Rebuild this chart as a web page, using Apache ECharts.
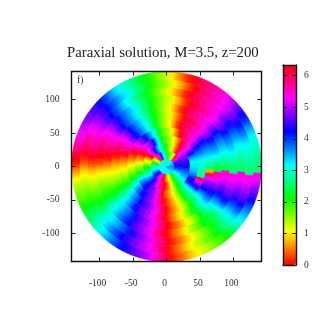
<!DOCTYPE html>
<html>
<head>
<meta charset="utf-8">
<style>
html,body{margin:0;padding:0;background:#fff}
canvas[data-zr-dom-id="zr_0"]{filter:blur(0.6px)}
canvas[data-zr-dom-id="zr_1"]{filter:blur(0.35px)}
</style>
<script src="https://cdn.jsdelivr.net/npm/echarts@6/dist/echarts.min.js"></script>
</head>
<body>
<div id="chart" style="width:332px;height:332px;"></div>
<script>
// ring centres (data units, centre to edge) and angle centres (degrees, ccw from +x)
var ringRadii = [5.9,17.8,29.6,41.4,53.3,65.1,76.9,88.8,100.6,112.4,124.3,136.1];
var angleCenters = [358,4,10,16,22,28,34,40,46,52,58,64,70,76,82,88,94,100,106,112,118,124,130,136,142,148,154,160,166,172,178,184,190,196,202,208,214,220,226,232,238,244,250,256,262,268,274,280,286,292,298,304,310,316,322,328,334,340,346,352];
// the scallops along the bands, degrees per ring
var ringTwist = [0,0,0,0,0,1,-1,1,-1,1,-1,1];
var xyTicks = [-100,-50,0,50,100];
var barTicks = [0,1,2,3,4,5,6];

// phase, one list per ring, inner to outer
var ring0 = [3.6,3.6,3.6,3.5,3.5,3.4,3.4,3.3,3.3,3.2,3.2,3.1,3.1,3.0,3.0,2.9,2.9,2.9,2.9,2.9,2.9,2.9,3.0,3.0,3.0,3.0,3.0,3.0,3.0,3.0,3.0,3.0,3.0,3.1,3.1,3.1,3.1,3.1,3.2,3.2,3.2,3.2,3.2,3.1,3.1,3.1,3.1,3.1,3.2,3.2,3.2,3.3,3.3,3.3,3.4,3.4,3.5,3.5,3.5,3.6];
var ring1 = [4.15,4.25,4.3,4.4,4.5,4.6,4.9,5.4,5.9,0.3,1.0,1.35,1.55,1.75,1.95,2.15,2.5,2.9,3.3,3.8,4.5,5.1,5.7,0.2,0.65,1.1,1.5,1.9,2.2,2.5,2.85,3.0,3.15,3.3,3.5,3.8,4.05,4.3,4.6,4.9,5.2,5.55,5.85,6.15,0.2,0.45,0.75,1.05,1.35,1.7,2.0,2.25,2.5,2.75,2.95,3.2,3.4,3.6,3.8,4.0];
var ring2 = [4.2,4.25,4.35,4.45,4.65,4.75,4.95,5.2,5.45,5.85,0.1,0.5,0.85,1.15,1.5,1.9,2.2,2.55,2.9,3.25,3.7,4.15,4.7,5.2,5.7,0.0,0.4,0.8,1.15,1.5,1.9,2.15,2.4,2.65,2.9,3.3,3.65,3.95,4.25,4.55,4.9,5.3,5.7,5.95,6.15,0.1,0.45,0.8,1.1,1.6,2.0,2.3,2.6,2.9,3.15,3.4,3.55,3.7,3.85,4.0];
var ring3 = [3.3,3.25,3.2,3.4,3.75,4.19,4.7,5.24,5.5,5.85,6.2,0.4,0.8,1.1,1.35,1.65,1.85,2.1,2.9,3.5,4.3,4.75,5.0,5.25,5.65,5.95,0.05,0.4,0.7,1.05,1.35,1.65,1.95,2.3,3.0,3.4,3.75,4.1,4.3,4.5,4.7,4.9,5.24,5.7,0.0,0.35,0.6,0.85,1.2,1.65,2.1,2.45,2.8,3.14,3.9,4.3,4.3,3.9,3.6,3.4];
var ring4 = [2.9,3.0,3.14,3.4,3.7,4.0,4.3,4.9,5.35,5.6,5.85,6.1,0.2,0.65,1.15,1.45,1.7,2.0,2.7,3.14,3.65,4.1,4.5,4.85,5.2,5.6,6.05,0.1,0.4,0.75,1.05,1.35,1.65,1.95,2.4,2.95,3.4,3.75,4.1,4.35,4.6,4.85,5.15,5.55,6.05,0.1,0.4,0.7,1.0,1.45,1.95,2.35,2.75,3.1,3.9,4.5,5.2,6.0,2.7,2.8];
var ring5 = [2.6,2.85,3.14,3.4,3.7,3.95,4.3,4.85,5.35,5.55,5.8,6.0,6.2,0.35,0.85,1.25,1.55,1.9,2.45,2.95,3.35,3.7,4.05,4.45,4.9,5.35,5.7,6.05,0.2,0.55,0.85,1.15,1.45,1.75,2.05,2.65,3.14,3.5,3.85,4.2,4.5,4.75,5.05,5.35,5.8,0.0,0.3,0.65,0.95,1.35,1.85,2.3,2.7,3.14,3.65,4.2,4.6,5.0,5.5,0.7];
var ring6 = [2.3,2.6,3.0,3.35,3.65,3.95,4.35,4.85,5.35,5.55,5.8,6.0,6.2,0.3,0.75,1.15,1.5,1.85,2.25,2.7,3.14,3.5,3.85,4.25,4.8,5.3,5.6,5.9,6.2,0.25,0.65,0.95,1.25,1.55,1.9,2.3,2.75,3.2,3.65,4.1,4.45,4.75,5.0,5.3,5.7,6.1,0.25,0.6,0.95,1.35,1.8,2.25,2.7,3.14,3.6,4.05,4.45,4.8,5.3,5.6];
var ring7 = [2.4,2.7,3.0,3.3,3.6,3.9,4.25,4.8,5.3,5.5,5.7,5.95,6.2,0.25,0.8,1.2,1.55,1.95,2.3,2.7,3.14,3.5,3.85,4.2,4.7,5.25,5.5,5.8,6.1,0.15,0.6,1.0,1.3,1.6,1.95,2.35,2.85,3.25,3.6,3.95,4.3,4.65,4.95,5.3,5.7,6.1,0.2,0.5,0.85,1.2,1.65,2.15,2.6,3.0,3.45,3.95,4.4,4.8,5.2,5.5];
var ring8 = [2.5,2.7,3.0,3.3,3.6,3.95,4.4,4.85,5.3,5.5,5.75,6.0,6.2,0.3,0.8,1.2,1.5,1.85,2.2,2.65,3.05,3.4,3.75,4.15,4.65,5.1,5.45,5.7,6.0,0.0,0.3,0.85,1.2,1.55,1.85,2.15,2.7,3.15,3.55,3.9,4.3,4.6,4.9,5.2,5.65,6.1,0.2,0.55,0.95,1.35,1.7,2.1,2.3,2.55,3.15,3.9,4.45,4.8,5.1,5.4];
var ring9 = [2.55,2.7,2.95,3.2,3.6,3.95,4.35,4.8,5.28,5.5,5.72,5.95,6.17,0.25,0.74,1.17,1.54,1.9,2.27,2.64,3.0,3.37,3.84,4.25,4.65,5.05,5.38,5.67,5.95,6.23,0.4,0.9,1.26,1.57,1.88,2.2,2.65,3.07,3.4,3.73,4.1,4.5,4.85,5.2,5.65,6.05,0.16,0.5,0.88,1.24,1.6,1.97,2.35,2.8,3.25,3.8,4.34,4.75,5.1,5.4];
var ring10 = [2.6,2.75,2.95,3.14,3.56,3.98,4.39,4.78,5.17,5.4,5.65,5.9,6.2,0.32,0.8,1.22,1.57,1.9,2.29,2.7,3.08,3.4,3.8,4.19,4.56,4.93,5.3,5.55,5.85,6.18,0.35,0.88,1.25,1.55,1.85,2.16,2.6,3.0,3.4,3.8,4.19,4.5,4.8,5.1,5.45,5.95,0.13,0.52,0.92,1.26,1.57,1.88,2.3,2.67,3.07,3.67,4.26,4.68,5.0,5.35];
var ring11 = [2.6,2.7,2.9,3.0,3.4,3.9,4.3,4.8,5.2,5.5,5.7,5.9,6.2,0.2,0.7,1.2,1.6,2.0,2.3,2.7,3.0,3.4,3.9,4.3,4.6,4.8,5.1,5.4,5.7,6.1,0.2,0.8,1.3,1.6,1.9,2.3,2.6,3.0,3.3,3.7,4.1,4.4,4.7,5.0,5.4,6.0,0.2,0.5,0.9,1.2,1.5,1.8,2.1,2.6,3.1,3.5,4.0,4.5,4.9,5.3];
var rings = [ring0,ring1,ring2,ring3,ring4,ring5,ring6,ring7,ring8,ring9,ring10,ring11];

var cells = [];
rings.forEach(function (ring, i) {
    ring.forEach(function (v, j) {
        cells.push([ringRadii[i], angleCenters[j] + ringTwist[i], v, i, j]);
    });
});

var serif = '"Liberation Serif"';
var barMax = 6.34;
var wheel = ['#ff0000', '#ffff00', '#00ff00', '#00ffff', '#0000ff', '#ff00ff', '#ff0000'];
var charts = echarts.init(document.getElementById('chart'));
var tickStyle = {color: '#222', width: 1};

// colour half way to the neighbouring cell, keeps the branch cut sharp
function edgeColor(a, b) {
    var d = b - a;
    if (d > Math.PI) d -= 2 * Math.PI;
    if (d < -Math.PI) d += 2 * Math.PI;
    if (Math.abs(d) > 1.5) d = 0;
    var v = a + d / 2;
    if (v < 0) v += 2 * Math.PI;
    if (v > 2 * Math.PI) v -= 2 * Math.PI;
    return echarts.color.lerp(v / barMax, wheel);
}

function frameAxis(gridIndex, position, min, max, values, length, label) {
    return {
        type: 'value',
        gridIndex: gridIndex,
        position: position,
        min: min,
        max: max,
        z: 6,
        zlevel: 1,
        splitLine: {show: false},
        axisLine: {show: true, onZero: false, lineStyle: {color: '#111', width: 1.4}},
        axisTick: {show: length > 0, inside: true, length: length, lineStyle: tickStyle, customValues: values},
        axisLabel: label || {show: false}
    };
}

var option = {
    animation: false,
    backgroundColor: '#fff',
    title: [
        {text: 'Paraxial solution, M=3.5, z=200', left: 67, top: 46, padding: 0, zlevel: 1, textStyle: {fontFamily: serif, fontSize: 14.8, fontWeight: 'normal', color: '#222'}},
        {text: 'f)', left: 77, top: 75, padding: 0, zlevel: 1, textStyle: {fontFamily: serif, fontSize: 9.5, fontWeight: 'normal', color: '#333'}}
    ],
    polar: {center: [166.5, 166.7], radius: 95},
    radiusAxis: {type: 'value', min: 0, max: 142, show: false},
    angleAxis: {type: 'value', min: 0, max: 360, startAngle: 0, clockwise: false, show: false},
    grid: [
        {left: 71.5, top: 71.5, width: 190, height: 190},
        {left: 283, top: 65, width: 13, height: 200}
    ],
    xAxis: [
        frameAxis(0, 'bottom', -142, 142, xyTicks, 4, {show: true, customValues: xyTicks, margin: 17, padding: [0, 4, 0, 0], fontFamily: serif, fontSize: 9.5, color: '#333'}),
        frameAxis(0, 'top', -142, 142, xyTicks, 4),
        frameAxis(1, 'bottom', 0, 1, [], 0),
        frameAxis(1, 'top', 0, 1, [], 0)
    ],
    yAxis: [
        frameAxis(0, 'left', -142, 142, xyTicks, 4, {show: true, customValues: xyTicks, margin: 12, padding: [8, 0, 0, 0], fontFamily: serif, fontSize: 9.5, color: '#333'}),
        frameAxis(0, 'right', -142, 142, xyTicks, 4),
        frameAxis(1, 'left', 0, barMax, barTicks, 4),
        frameAxis(1, 'right', 0, barMax, barTicks, 4, {show: true, customValues: barTicks, margin: 8, padding: [10, 0, 0, 0], fontFamily: serif, fontSize: 9.5, color: '#333'})
    ],
    visualMap: {
        type: 'continuous',
        seriesIndex: 0,
        min: 0,
        max: barMax,
        dimension: 2,
        calculable: false,
        realtime: false,
        left: 283,
        top: 65,
        itemWidth: 13,
        itemHeight: 200,
        padding: 0,
        text: null,
        showLabel: false,
        zlevel: 1,
        z: 1,
        inRange: {color: wheel}
    },
    series: [{
        type: 'custom',
        coordinateSystem: 'polar',
        silent: true,
        data: cells,
        encode: {radius: 0, angle: 1},
        renderItem: function (params, api) {
            var values = [api.value(0), api.value(1)];
            var coord = api.coord(values);
            var size = api.size([142 / 12, 6], values);
            var cx = params.coordSys.cx, cy = params.coordSys.cy;
            var ring = rings[api.value(3)], j = api.value(4), n = ring.length;
            var start = -(coord[3] + size[1] / 2), end = -(coord[3] - size[1] / 2);
            var fill = new echarts.graphic.LinearGradient(
                cx + coord[2] * Math.cos(start), cy + coord[2] * Math.sin(start),
                cx + coord[2] * Math.cos(end), cy + coord[2] * Math.sin(end),
                [
                    {offset: 0, color: edgeColor(ring[j], ring[(j + 1) % n])},
                    {offset: 0.5, color: api.visual('color')},
                    {offset: 1, color: edgeColor(ring[j], ring[(j - 1 + n) % n])}
                ], true);
            return {
                type: 'sector',
                shape: {cx: cx, cy: cy, r0: coord[2] - size[0] / 2, r: coord[2] + size[0] / 2, startAngle: start, endAngle: end},
                style: {fill: fill, stroke: fill, lineWidth: 0.6}
            };
        }
    }]
};
charts.setOption(option);
</script>
</body>
</html>
